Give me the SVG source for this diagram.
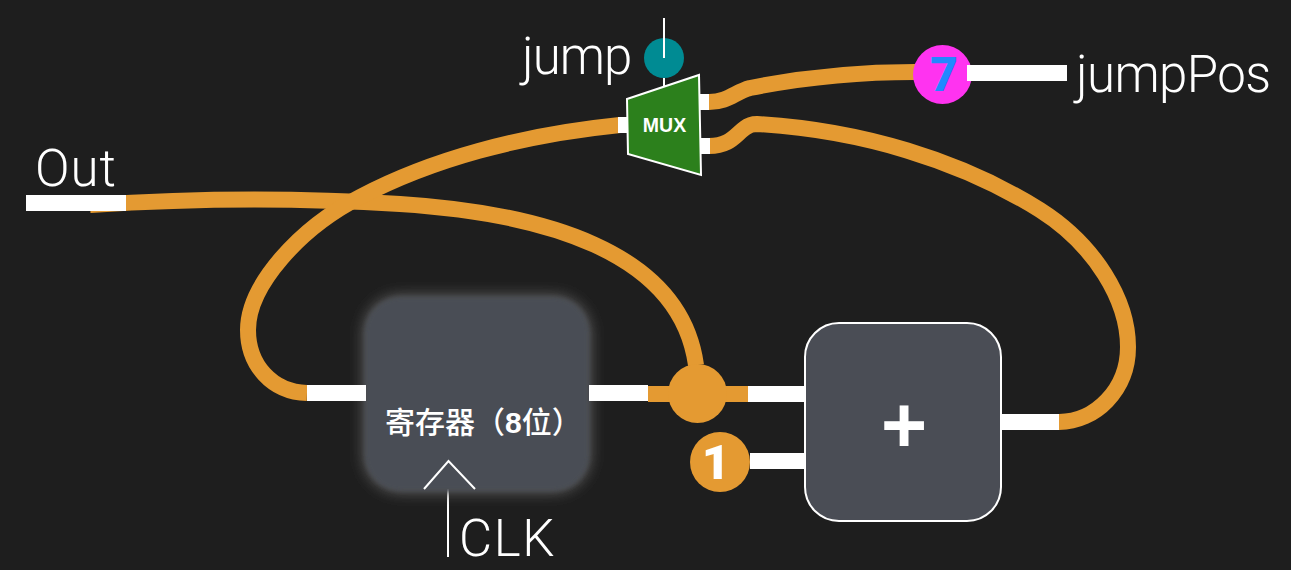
<svg xmlns="http://www.w3.org/2000/svg" width="1291" height="570" viewBox="0 0 1291 570">
<defs>
<filter id="glow" x="-20%" y="-20%" width="140%" height="140%"><feGaussianBlur stdDeviation="7"/></filter>
<filter id="soft" x="-10%" y="-10%" width="120%" height="120%"><feGaussianBlur stdDeviation="2"/></filter>
</defs>
<style>
.w{fill:none;stroke:#e49a32;stroke-width:16}
.p{fill:#fff}
.t{fill:#fff}
.sans{font-family:"Liberation Sans",sans-serif}
.cjk{font-family:"Noto Sans CJK SC",sans-serif}
.rb{font-family:Roboto,sans-serif;font-weight:900}
.lb{font-family:Roboto,sans-serif;font-weight:300;font-size:51px}
.thin{fill:none;stroke:#fff;stroke-width:2}
</style>
<rect width="1291" height="570" fill="#1e1e1e"/>
<g id="connectors">
<path class="w" d="M90 205C180 199 290 197 400 204C540 213 680 250 696 365"/>
<path class="w" d="M307 393C272 392 248 365 248 330C248 285 300 228 360 197C430 160 520 135 620 125"/>
<path class="w" d="M709 102C728 102 735 92 750 88C800 78 860 72 915 72"/>
<path class="w" d="M709 146C730 146 735 135 745 128Q750 124 757 124C860 130 960 160 1040 210C1095 245 1128 300 1128 347C1128 390 1095 422 1059 422"/>
<rect class="p" x="26" y="195" width="100" height="16"/>
<rect class="p" x="618" y="117" width="11" height="16"/>
<rect class="p" x="699" y="94" width="10" height="16"/>
<rect class="p" x="699" y="138" width="11" height="16"/>
<rect x="648" y="386" width="100" height="16" fill="#e49a32"/>
<rect class="p" x="748" y="386" width="57" height="16"/>
<rect class="p" x="750" y="453" width="55" height="16"/>
<rect class="p" x="1001" y="414" width="58" height="16"/>
<path class="thin" d="M448 489V557"/>
</g>
<g id="register">
<rect x="363" y="295" width="228" height="198" rx="38" fill="#5c5c5c" filter="url(#glow)"/>
<rect x="365" y="297" width="224" height="194" rx="36" fill="#4a4d55" filter="url(#soft)"/>
<rect class="p" x="307" y="385" width="59" height="16"/>
<rect class="p" x="589" y="385" width="59" height="16"/>
<text class="t cjk" x="385" y="433" font-size="30" font-weight="500">寄存器（<tspan class="sans" font-weight="700">8</tspan>位）</text>
<path class="thin" d="M424 489L448.500 461L475 489"/>
</g>
<g id="adder">
<rect x="805" y="323" width="196" height="198" rx="34" fill="#4a4d55" stroke="#fff" stroke-width="2"/>
<text class="t sans" x="904" y="452" font-size="79" font-weight="700" text-anchor="middle">+</text>
</g>
<g id="junction"><circle cx="697.500" cy="393.500" r="29.500" fill="#e49a32"/></g>
<g id="const1">
<circle cx="720" cy="462" r="30" fill="#e49a32"/>
<text class="t rb" x="716" y="479" font-size="49" text-anchor="middle">1</text>
</g>
<g id="const7">
<circle cx="942.500" cy="74.500" r="29.500" fill="#ff33f0"/>
<text class="rb" x="944" y="91" font-size="48" text-anchor="middle" fill="#2288ff">7</text>
<rect class="p" x="967" y="65" width="100" height="16"/>
</g>
<g id="jump-pin">
<circle cx="664" cy="58" r="20" fill="#008b93"/>
<path class="thin" d="M664 18V58M664 78V88"/>
</g>
<g id="mux">
<path d="M627 99L699 75L701 175L628 154Z" fill="#2c801c" stroke="#fff" stroke-width="2"/>
<text class="t sans" x="664.500" y="132" font-size="19.500" font-weight="700" text-anchor="middle">MUX</text>
</g>
<g id="labels">
<text class="t lb" x="35" y="186" letter-spacing="1">Out</text>
<text class="t lb" x="522" y="74" letter-spacing="-1">jump</text>
<text class="t lb" x="1076" y="92" letter-spacing="-0.600">jumpPos</text>
<text class="t lb" x="459" y="556" letter-spacing="1.600">CLK</text>
</g>
</svg>
